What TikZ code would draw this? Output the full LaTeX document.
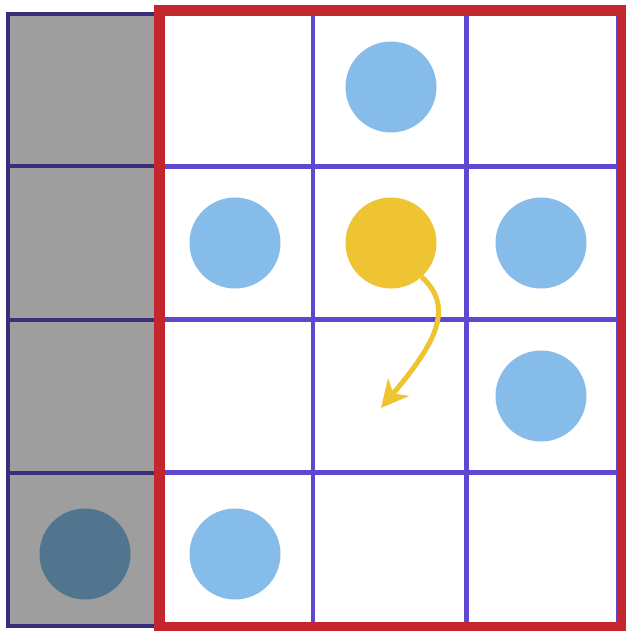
\documentclass[tikz,border=0pt]{standalone}
\usetikzlibrary{arrows.meta}
\definecolor{lblue}{HTML}{86BCEA}
\definecolor{dyellow}{HTML}{EEC432}
\definecolor{dblue}{HTML}{51748F}
\definecolor{cgray}{HTML}{9E9E9E}
\definecolor{navy}{HTML}{3A2E7A}
\definecolor{gridpurple}{HTML}{5E48CF}
\definecolor{framered}{HTML}{C4262E}
\tikzset{
  dot/.style={circle, inner sep=0pt, minimum size=91pt, draw=none},
  navyline/.style={draw=navy, line width=4pt},
  gridline/.style={draw=gridpurple, line width=4.5pt},
  redframe/.style={draw=framered, line width=11pt},
}
\begin{document}
\begin{tikzpicture}[x=1pt,y=-1pt]
\useasboundingbox (0,0) rectangle (625,631);
\fill[white] (0,0) rectangle (625,631);
% gray column
\fill[cgray] (6,12) rectangle (158,627);
\draw[navyline] (8,14) rectangle (158,625.5);
\foreach \y in {166.5,319.5,472.5} \draw[navyline] (6,\y) -- (158,\y);
% purple grid
\foreach \x in {313,466.5,618.5} \draw[gridline] (\x,10) -- (\x,627);
\foreach \y in {166.5,319.5,472.5} \draw[gridline] (158,\y) -- (620,\y);
% circles
\node[dot, fill=lblue] (c1) at (391,87) {};
\node[dot, fill=lblue] (c2) at (235,243) {};
\node[dot, fill=dyellow] (y) at (391,243) {};
\node[dot, fill=lblue] (c3) at (541,243) {};
\node[dot, fill=lblue] (c4) at (541,396) {};
\node[dot, fill=lblue] (c5) at (235,554) {};
\node[dot, fill=dblue] (d) at (85,554) {};
% red frame
\draw[redframe] (159,10.5) rectangle (622.5,627.5);
% arrow
\coordinate (tip) at (381,408);
\draw[dyellow, line width=5pt, -{Stealth[length=27pt,width=27pt,inset=8pt]}]
  (y.-48) .. controls (456,308) and (434,345) .. (tip);
\end{tikzpicture}
\end{document}
